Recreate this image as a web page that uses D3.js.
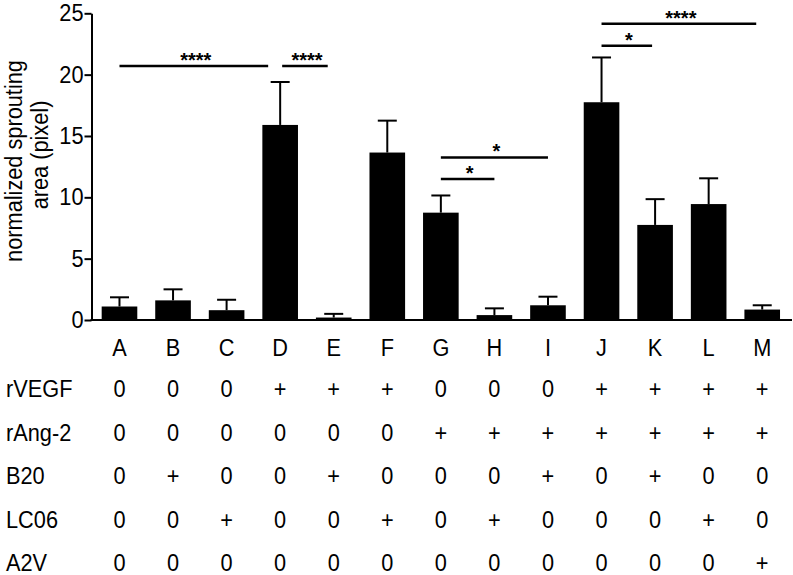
<!DOCTYPE html>
<html>
<head>
<meta charset="utf-8">
<script src="https://cdnjs.cloudflare.com/ajax/libs/d3/7.8.5/d3.min.js"></script>
<style>
  body { margin: 0; background: #fff; }
  text { font-family: "Liberation Sans", Arial, sans-serif; fill: #000; }
</style>
</head>
<body>
<div id="chart"></div>
<script>
// data
var categories = ["A", "B", "C", "D", "E", "F", "G", "H", "I", "J", "K", "L", "M"];
var means  = [1.1, 1.6, 0.8, 15.9, 0.2, 13.65, 8.75, 0.4, 1.2, 17.75, 7.75, 9.45, 0.85];
var errors = [0.75, 0.9, 0.85, 3.5, 0.3, 2.6, 1.4, 0.55, 0.7, 3.65, 2.1, 2.1, 0.35];
var yTicks = [0, 5, 10, 15, 20, 25];

var rowLabels = ["rVEGF", "rAng-2", "B20", "LC06", "A2V"];
var rVEGF = ["0", "0", "0", "+", "+", "+", "0", "0", "0", "+", "+", "+", "+"];
var rAng2 = ["0", "0", "0", "0", "0", "0", "+", "+", "+", "+", "+", "+", "+"];
var B20   = ["0", "+", "0", "0", "+", "0", "0", "0", "+", "0", "+", "0", "0"];
var LC06  = ["0", "0", "+", "0", "0", "+", "0", "+", "0", "0", "0", "+", "0"];
var A2V   = ["0", "0", "0", "0", "0", "0", "0", "0", "0", "0", "0", "0", "+"];
var tableRows = [rVEGF, rAng2, B20, LC06, A2V];

// significance brackets (level in data units)
var brackets = [
  {from: "A", to: "D", level: 20.7, label: "****"},
  {from: "D", to: "E", level: 20.7, label: "****"},
  {from: "G", to: "H", level: 11.5, label: "*"},
  {from: "G", to: "I", level: 13.25, label: "*"},
  {from: "J", to: "K", level: 22.35, label: "*"},
  {from: "J", to: "M", level: 24.15, label: "****"}
];

var width = 793, height = 575;
var fontSize = "23.5px";

var svg = d3.select("#chart").append("svg")
  .attr("width", width)
  .attr("height", height);

svg.append("rect").attr("width", width).attr("height", height).attr("fill", "#fff");

// scales
var x = d3.scaleBand()
  .domain(categories)
  .range([92.7, 789])
  .paddingInner(0.335)
  .paddingOuter(0.1675);

var y = d3.scaleLinear()
  .domain([0, 25])
  .range([320, 13.3]);

var axisX = 91.5;

// y axis
var yAxis = svg.append("g")
  .attr("transform", "translate(" + axisX + ",0)")
  .call(d3.axisLeft(y)
    .tickValues(yTicks)
    .tickSize(7)
    .tickSizeOuter(0)
    .tickPadding(1));

yAxis.select(".domain").attr("stroke", "#000").attr("stroke-width", 2);
yAxis.selectAll(".tick line").attr("stroke", "#000").attr("stroke-width", 2);
yAxis.selectAll(".tick text")
  .attr("class", "narrow")
  .style("font-family", "'Liberation Sans', Arial, sans-serif")
  .style("font-size", fontSize)
  .attr("fill", "#000");

// x axis line
svg.append("line")
  .attr("x1", axisX - 1)
  .attr("x2", 792)
  .attr("y1", y(0))
  .attr("y2", y(0))
  .attr("stroke", "#000")
  .attr("stroke-width", 2);

// y label
var yLabel = svg.append("text")
  .attr("transform", "translate(0," + 158 + ") rotate(-90)")
  .attr("text-anchor", "middle")
  .style("font-size", fontSize);
yLabel.append("tspan").attr("class", "narrow").attr("x", -3).attr("y", 22).text("normalized sprouting");
yLabel.append("tspan").attr("class", "narrow").attr("x", 3).attr("y", 48).text("area (pixel)");

// bars
svg.selectAll(".bar")
  .data(categories)
  .enter().append("rect")
  .attr("class", "bar")
  .attr("x", function(d) { return x(d); })
  .attr("width", x.bandwidth())
  .attr("y", function(d, i) { return y(means[i]); })
  .attr("height", function(d, i) { return y(0) - y(means[i]); })
  .attr("fill", "#000");

// error bars
var capW = 19;
var err = svg.selectAll(".err")
  .data(categories)
  .enter().append("g")
  .attr("class", "err")
  .attr("stroke", "#000")
  .attr("stroke-width", 2);

err.append("line")
  .attr("x1", function(d) { return x(d) + x.bandwidth() / 2; })
  .attr("x2", function(d) { return x(d) + x.bandwidth() / 2; })
  .attr("y1", function(d, i) { return y(means[i]); })
  .attr("y2", function(d, i) { return y(means[i] + errors[i]); });

err.append("line")
  .attr("x1", function(d) { return x(d) + x.bandwidth() / 2 - capW / 2; })
  .attr("x2", function(d) { return x(d) + x.bandwidth() / 2 + capW / 2; })
  .attr("y1", function(d, i) { return y(means[i] + errors[i]); })
  .attr("y2", function(d, i) { return y(means[i] + errors[i]); });

// brackets
var cx = function(c) { return x(c) + x.bandwidth() / 2; };
var endTrim = {"A-D": 12, "D-E": 6, "J-K": 3, "J-M": 6};
var startTrim = {"D-E": 2};

var br = svg.selectAll(".bracket")
  .data(brackets)
  .enter().append("g")
  .attr("class", "bracket");

br.append("line")
  .attr("x1", function(d) { return cx(d.from) + (startTrim[d.from + "-" + d.to] || 0); })
  .attr("x2", function(d) { return cx(d.to) - (endTrim[d.from + "-" + d.to] || 0); })
  .attr("y1", function(d) { return y(d.level); })
  .attr("y2", function(d) { return y(d.level); })
  .attr("stroke", "#000")
  .attr("stroke-width", 2.5);

br.append("text")
  .attr("x", function(d) {
    var a = cx(d.from) + (startTrim[d.from + "-" + d.to] || 0);
    var b = cx(d.to) - (endTrim[d.from + "-" + d.to] || 0);
    return (a + b) / 2 + 2;
  })
  .attr("y", function(d) { return y(d.level) + 1; })
  .attr("text-anchor", "middle")
  .style("font-size", "20px")
  .style("font-weight", "bold")
  .text(function(d) { return d.label; });

// table: category letters
svg.selectAll(".cat")
  .data(categories)
  .enter().append("text")
  .attr("class", "cat narrow")
  .attr("x", function(d) { return cx(d); })
  .attr("y", 356)
  .attr("text-anchor", "middle")
  .style("font-size", fontSize)
  .text(function(d) { return d; });

var rowY = d3.scalePoint()
  .domain(rowLabels)
  .range([397, 571]);

svg.selectAll(".rowlabel")
  .data(rowLabels)
  .enter().append("text")
  .attr("class", "rowlabel narrow")
  .attr("x", 6)
  .attr("y", function(d) { return rowY(d); })
  .style("font-size", fontSize)
  .text(function(d) { return d; });

rowLabels.forEach(function(r, ri) {
  svg.selectAll(".cell-" + ri)
    .data(tableRows[ri])
    .enter().append("text")
    .attr("class", "cell-" + ri + " narrow")
    .attr("x", function(d, i) { return cx(categories[i]); })
    .attr("y", rowY(r))
    .attr("text-anchor", "middle")
    .style("font-size", fontSize)
    .text(function(d) { return d; });
});

// the original lettering is a slightly condensed sans
svg.selectAll(".narrow").each(function() {
  var w = this.getComputedTextLength();
  d3.select(this)
    .attr("textLength", w * 0.925)
    .attr("lengthAdjust", "spacingAndGlyphs");
});
</script>
</body>
</html>
